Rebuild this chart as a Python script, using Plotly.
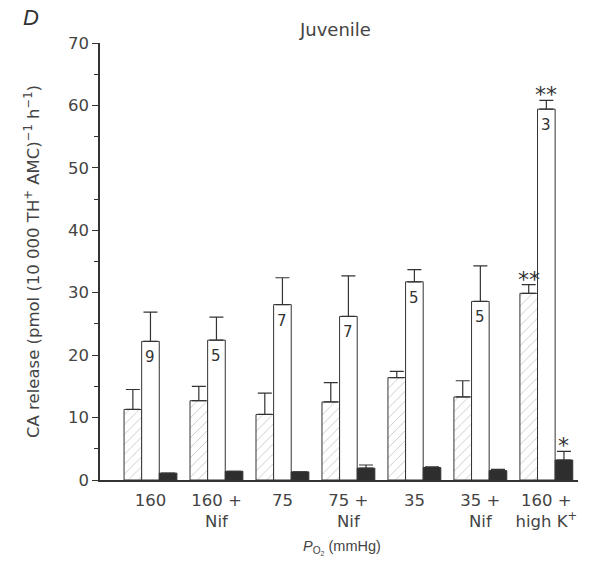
import plotly.graph_objects as go

categories = ["160", "160 +<br>Nif", "75", "75 +<br>Nif", "35", "35 +<br>Nif", "160 +<br>high K<sup>+</sup>"]
hatched_vals = [11.3, 12.7, 10.5, 12.5, 16.4, 13.3, 29.9]
hatched_err = [3.2, 2.3, 3.4, 3.1, 1.0, 2.6, 1.4]
white_vals = [22.2, 22.4, 28.1, 26.2, 31.75, 28.6, 59.4]
white_err = [4.7, 3.7, 4.3, 6.5, 1.95, 5.7, 1.4]
black_vals = [1.1, 1.4, 1.3, 1.9, 2.0, 1.5, 3.2]
black_err = [0.0, 0.0, 0.0, 0.5, 0.1, 0.2, 1.4]
n_labels = ["9", "5", "7", "7", "5", "5", "3"]
stars_hatched = ["", "", "", "", "", "", "**"]
stars_white = ["", "", "", "", "", "", "**"]
stars_black = ["", "", "", "", "", "", "*"]

W = 0.267
idx = list(range(len(categories)))
ink = "#333333"
txt = "#444444"
font = "DejaVu Sans, sans-serif"
font2 = "Liberation Sans, Arial, sans-serif"

def errbar(arr):
    return dict(type="data", symmetric=False, array=arr, arrayminus=[0] * len(arr),
                color=ink, thickness=1.2, width=7)

fig = go.Figure()
fig.add_trace(go.Bar(
    x=[i - W for i in idx], y=hatched_vals, width=W,
    marker=dict(color="white", line=dict(color=ink, width=1),
                pattern=dict(shape="/", fgcolor="#888888", bgcolor="white", size=7, solidity=0.12)),
    error_y=errbar(hatched_err), showlegend=False))
fig.add_trace(go.Bar(
    x=idx, y=white_vals, width=W,
    marker=dict(color="white", line=dict(color=ink, width=1)),
    error_y=errbar(white_err), showlegend=False))
fig.add_trace(go.Bar(
    x=[i + W for i in idx], y=black_vals, width=W,
    marker=dict(color="#2e2e2e", line=dict(color=ink, width=1)),
    error_y=errbar(black_err), showlegend=False))

ann = []
for i in idx:
    ann.append(dict(x=i, y=white_vals[i], text=n_labels[i], showarrow=False, yanchor="top",
                    yshift=-5, font=dict(size=15, color=ink, family=font)))
    for off, vals, errs, stars in [(-W, hatched_vals, hatched_err, stars_hatched),
                                   (0, white_vals, white_err, stars_white),
                                   (W, black_vals, black_err, stars_black)]:
        if stars[i]:
            ann.append(dict(x=i + off, y=vals[i] + errs[i], text=stars[i], showarrow=False,
                            yanchor="bottom", yshift=-9, font=dict(size=22, color=ink, family=font)))

ann.append(dict(xref="paper", yref="paper", x=0.4906, y=1.0, yshift=1, text="Juvenile", showarrow=False,
                yanchor="bottom", font=dict(size=18, color=txt, family=font)))
ann.append(dict(xref="paper", yref="paper", x=-0.166, y=1.0, yshift=11, text="<i>D</i>", showarrow=False,
                xanchor="left", yanchor="bottom", font=dict(size=22, color=ink, family=font2)))
ann.append(dict(xref="paper", yref="paper", x=0.506, y=0, yshift=-68, text="<i>P</i><sub>O<sub>2</sub></sub> (mmHg)",
                showarrow=False, yanchor="middle", font=dict(size=14.5, color=txt, family=font2)))

fig.update_layout(
    width=595, height=569,
    margin=dict(l=100, r=17, t=43, b=89),
    plot_bgcolor="white", paper_bgcolor="white",
    barmode="overlay",
    font=dict(family=font, color=ink, size=16),
    annotations=ann,
    xaxis=dict(range=[-0.765, 6.48], tickvals=idx, ticktext=categories, ticks="",
               ticklabelstandoff=4,
               showline=True, linecolor=ink, linewidth=1.5, showgrid=False, zeroline=False,
               tickfont=dict(size=16.5, color=txt, family=font)),
    yaxis=dict(range=[0, 70], tickvals=list(range(0, 71, 10)), ticks="outside", ticklen=6,
               tickcolor=ink, tickwidth=1.2,
               minor=dict(tickvals=list(range(5, 70, 10)), ticks="outside", ticklen=4, tickcolor=ink, tickwidth=1.2),
               showline=True, linecolor=ink, linewidth=1.5, showgrid=False, zeroline=False,
               tickfont=dict(size=16.5, color=txt, family=font),
               title=dict(text="CA release (pmol (10 000 TH<sup>+</sup> AMC)<sup>−1</sup> h<sup>−1</sup>)",
                          font=dict(size=16.5, color=txt, family=font), standoff=24)),
)

fig.write_html("out.html")
